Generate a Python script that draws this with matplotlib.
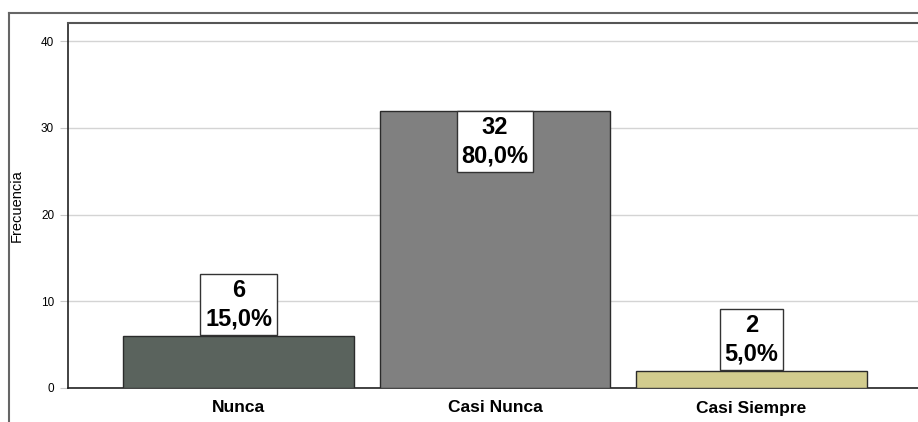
import matplotlib.pyplot as plt
from matplotlib.lines import Line2D

# data
categorias = ['Nunca', 'Casi Nunca', 'Casi Siempre']
frecuencias = [6, 32, 2]
porcentajes = ['15,0%', '80,0%', '5,0%']
colores = ['#5a635d', '#808080', '#d2cc8e']

plt.rcParams['font.family'] = ['Liberation Sans', 'DejaVu Sans']

fig = plt.figure(figsize=(9.18, 4.22), dpi=100)
ax = fig.add_axes([68/918, 34/422, 854/918, 365/422])

x = range(len(categorias))
ax.bar(x, frecuencias, width=0.9, color=colores, edgecolor='#2b2b2b', linewidth=1, zorder=3)

ax.set_xlim(-0.665, 2.665)
ax.set_ylim(0, 42.1)
ax.set_yticks([0, 10, 20, 30, 40])
ax.yaxis.grid(True, color='#d4d4d4', linewidth=1, zorder=0)
ax.set_axisbelow(True)
ax.tick_params(axis='y', length=6, color='#c8c8c8', labelsize=8.5, pad=4)
ax.tick_params(axis='x', length=0, labelsize=12.5, pad=9)
ax.set_xticks(list(x))
ax.set_xticklabels(categorias, fontweight='bold')
ax.set_ylabel('Frecuencia', fontsize=10.5, labelpad=12)

for s in ['left', 'bottom']:
    ax.spines[s].set_color('#222222')
    ax.spines[s].set_linewidth(1.2)
ax.spines['top'].set_color('#555555')
ax.spines['top'].set_linewidth(1.5)
ax.spines['right'].set_visible(False)

# value labels in white boxes
for i, (f, p) in enumerate(zip(frecuencias, porcentajes)):
    if f > 20:
        va, off = 'top', -4
    else:
        va, off = 'bottom', 4
    ax.annotate(f'{f}\n{p}', xy=(i, f), xytext=(0, off), textcoords='offset points',
                ha='center', va=va, fontsize=17, fontweight='bold', linespacing=1.3,
                multialignment='center', zorder=5,
                bbox=dict(boxstyle='square,pad=0.2', facecolor='white',
                          edgecolor='#333333', linewidth=1))

# outer frame
fig.add_artist(Line2D([9/918, 1], [1 - 13/422, 1 - 13/422], color='#666666', lw=1.5))
fig.add_artist(Line2D([9/918, 9/918], [0, 1 - 13/422], color='#666666', lw=1.5))

fig.savefig('out.png', dpi=100)
